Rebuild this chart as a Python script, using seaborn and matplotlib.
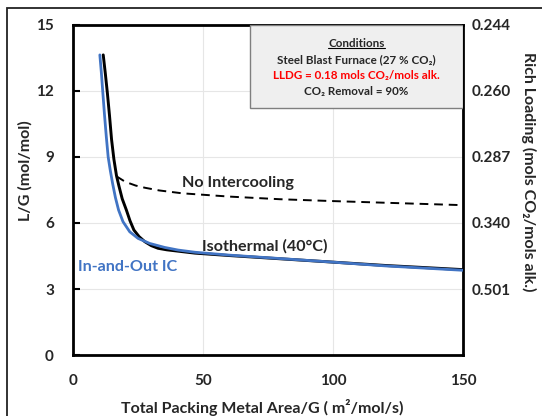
import matplotlib
matplotlib.use("Agg")
import matplotlib.pyplot as plt
from matplotlib.patches import Rectangle
from matplotlib.lines import Line2D
import pandas as pd
import seaborn as sns

# Absorber L/G versus total packing metal area for three intercooling cases
iso_area = [11.5, 12.3, 13.1, 13.9, 14.7, 15.6, 16.6, 17.5, 18.8, 20.4, 21.8, 23.3, 25.3, 27.5,
            30.0, 32.6, 36.0, 40.3, 46.8, 60, 80, 100, 120, 150]
iso_lg = [13.64, 12.8, 11.9, 10.9, 9.8, 8.9, 8.15, 7.7, 7.1, 6.59, 6.1, 5.68, 5.38, 5.15,
          4.97, 4.85, 4.78, 4.72, 4.63, 4.52, 4.37, 4.22, 4.07, 3.88]

ic_area = [10.2, 10.8, 11.3, 12.0, 12.7, 13.4, 14.2, 15.1, 16.2, 17.4, 19.1, 21.7, 24.9, 29.4,
           35.1, 40.3, 46.8, 60, 80, 100, 120, 150]
ic_lg = [13.64, 12.8, 12.0, 10.9, 9.9, 9.0, 8.4, 7.8, 7.15, 6.59, 6.06, 5.6, 5.3, 5.07,
         4.89, 4.77, 4.67, 4.54, 4.38, 4.22, 4.05, 3.85]

noic_area = [16.6, 20, 24, 27.6, 33, 41.8, 60, 79.5, 98.7, 120, 150]
noic_lg = [8.12, 7.87, 7.7, 7.6, 7.48, 7.35, 7.2, 7.08, 7.0, 6.92, 6.81]

y_ticks = [0, 3, 6, 9, 12, 15]
x_ticks = [0, 50, 100, 150]
rich_ticks = [15, 12, 9, 6, 3]
rich_labels = ["0.244", "0.260", "0.287", "0.340", "0.501"]

df = pd.concat([
    pd.DataFrame({"area": iso_area, "lg": iso_lg, "case": "Isothermal (40°C)"}),
    pd.DataFrame({"area": ic_area, "lg": ic_lg, "case": "In-and-Out IC"}),
    pd.DataFrame({"area": noic_area, "lg": noic_lg, "case": "No Intercooling"}),
])

sns.set_theme(style="white")
plt.rcParams["font.family"] = ["Lato", "DejaVu Sans"]
plt.rcParams["font.weight"] = "bold"

BLUE = "#4174C4"
fig = plt.figure(figsize=(5.42, 4.16), dpi=100)
ax = fig.add_axes([0.1353, 0.1466, 0.7195, 0.7934])

sns.lineplot(data=df[df["case"] == "In-and-Out IC"], x="area", y="lg", color=BLUE,
             lw=2.0, sort=False, estimator=None, ax=ax, zorder=3)
sns.lineplot(data=df[df["case"] == "No Intercooling"], x="area", y="lg", color="black",
             lw=1.4, sort=False, estimator=None, ax=ax, zorder=3, linestyle=(0, (4.5, 3)))
sns.lineplot(data=df[df["case"] == "Isothermal (40°C)"], x="area", y="lg", color="black",
             lw=2.1, sort=False, estimator=None, ax=ax, zorder=2)

ax.set_xlim(0, 150)
ax.set_ylim(0, 15)
ax.set_xticks(x_ticks)
ax.set_yticks(y_ticks)
ax.grid(True, color="#e6e6e6", lw=0.8)
ax.set_axisbelow(True)
for s in ax.spines.values():
    s.set_color("black")
    s.set_linewidth(2.0)
ax.tick_params(axis="both", direction="in", length=5, width=1.5, labelsize=11, color="black")
ax.tick_params(axis="y", pad=14)
ax.tick_params(axis="x", pad=14)
for lab in ax.get_xticklabels() + ax.get_yticklabels():
    lab.set_fontweight("bold")

ax.set_xlabel("Total Packing Metal Area/G ( m²/mol/s)", fontsize=11.5, fontweight="bold",
              va="center")
ax.set_ylabel("L/G (mol/mol)", fontsize=11.5, fontweight="bold", va="center")
ax.xaxis.set_label_coords(0.485, -0.158)
ax.yaxis.set_label_coords(-0.124, 0.56)

ax2 = ax.twinx()
ax2.set_ylim(0, 15)
ax2.set_yticks(rich_ticks)
ax2.set_yticklabels(rich_labels, fontsize=11, fontweight="bold")
ax2.tick_params(axis="y", length=0, pad=6)
ax2.grid(False)
for s in ax2.spines.values():
    s.set_visible(False)
ax2.set_ylabel("Rich Loading (mols CO₂/mols alk.)", fontsize=11.5, fontweight="bold",
               rotation=-90, va="center")
ax2.yaxis.set_label_coords(1.166, 0.555)

# Curve annotations
ax.text(41.8, 7.8, "No Intercooling", fontsize=11.6, fontweight="bold", va="center", ha="left")
ax.text(49.4, 4.92, "Isothermal (40°C)", fontsize=11.6, fontweight="bold", va="center", ha="left")
ax.text(1.8, 4.0, "In-and-Out IC", fontsize=11.6, fontweight="bold", va="center", ha="left",
        color=BLUE)

# Conditions box
ax.add_patch(Rectangle((0.453, 0.748), 0.547, 0.252, transform=ax.transAxes,
                       facecolor="#efefef", edgecolor="#7f7f7f", lw=1.0, zorder=4))
bx = 0.453 + 0.547 / 2
title = ax.text(bx, 0.945, "Conditions", transform=ax.transAxes, ha="center", va="center",
                fontsize=8.4, fontweight="bold", zorder=5)
ax.text(bx, 0.896, "Steel Blast Furnace (27 % CO₂)", transform=ax.transAxes, ha="center",
        va="center", fontsize=8.4, fontweight="bold", zorder=5)
ax.text(bx, 0.848, "LLDG = 0.18 mols CO₂/mols alk.", transform=ax.transAxes, ha="center",
        va="center", fontsize=8.4, fontweight="bold", color="#ff0000", zorder=5)
ax.text(bx, 0.798, "CO₂ Removal = 90%", transform=ax.transAxes, ha="center", va="center",
        fontsize=8.4, fontweight="bold", zorder=5)

fig.canvas.draw()
bb = title.get_window_extent().transformed(ax.transAxes.inverted())
ax.add_line(Line2D([bb.x0, bb.x1], [bb.y0 + 0.002, bb.y0 + 0.002], transform=ax.transAxes,
                   color="black", lw=0.8, zorder=5))

# Outer chart frame
fig.patches.append(Rectangle((7 / 542, -0.05), 1.1, 1 - 8 / 416 + 0.05, transform=fig.transFigure,
                             fill=False, edgecolor="#222222", lw=1.3))

fig.savefig("out.png", dpi=100)
